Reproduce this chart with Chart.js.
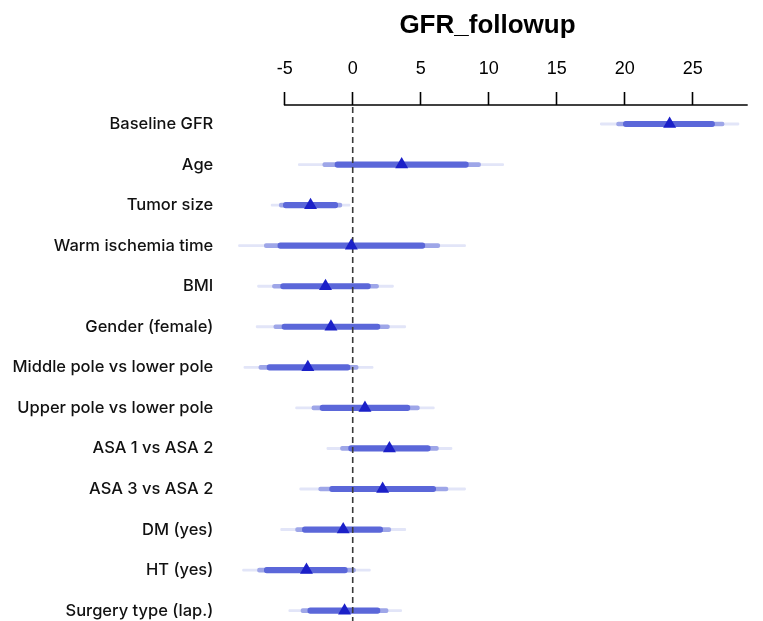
<!DOCTYPE html>
<html>
<head>
<meta charset="utf-8">
<script src="https://cdn.jsdelivr.net/npm/chart.js@4/dist/chart.umd.min.js"></script>
<style>
  html, body { margin: 0; padding: 0; background: #fff; }
  #wrap { width: 763px; height: 621px; }
</style>
</head>
<body>
<div id="wrap"><canvas id="c" width="763" height="621"></canvas></div>
<script>
const categories = ['Baseline GFR', 'Age', 'Tumor size', 'Warm ischemia time', 'BMI', 'Gender (female)',
  'Middle pole vs lower pole', 'Upper pole vs lower pole', 'ASA 1 vs ASA 2', 'ASA 3 vs ASA 2',
  'DM (yes)', 'HT (yes)', 'Surgery type (lap.)'];
const estimates = [23.3, 3.6, -3.1, -0.1, -2.0, -1.6, -3.3, 0.9, 2.7, 2.2, -0.7, -3.4, -0.6];
const outerLow  = [18.2, -4.0, -6.0, -8.4, -7.0, -7.1, -8.0, -4.2, -1.9, -3.9, -5.3, -8.1, -4.7];
const outerHigh = [28.4, 11.1, -0.2, 8.3, 3.0, 3.9, 1.5, 6.0, 7.3, 8.3, 3.9, 1.3, 3.6];
const midLow    = [19.4, -2.2, -5.4, -6.5, -5.9, -5.8, -6.9, -3.0, -0.9, -2.5, -4.2, -7.0, -3.8];
const midHigh   = [27.3, 9.4, -0.8, 6.4, 1.9, 2.7, 0.4, 4.9, 6.3, 7.0, 2.8, 0.2, 2.6];
const innerLow  = [19.9, -1.3, -5.1, -5.5, -5.3, -5.2, -6.3, -2.4, -0.3, -1.7, -3.7, -6.5, -3.3];
const innerHigh = [26.6, 8.5, -1.1, 5.3, 1.3, 2.0, -0.2, 4.2, 5.7, 6.1, 2.2, -0.4, 2.0];
const xTickValues = [-5, 0, 5, 10, 15, 20, 25];
const chartTitle = 'GFR_followup';

const intervalData = (lo, hi) => categories.map((_, i) => ({ x: [lo[i], hi[i]], y: i }));

const refLinePlugin = {
  id: 'refLine',
  afterDatasetDraw(chart, args) {
    if (args.index !== 1) return;
    const ctx = chart.ctx, xs = chart.scales.x;
    const x0 = xs.getPixelForValue(0);
    ctx.save();
    ctx.strokeStyle = '#3a3a3a';
    ctx.lineWidth = 1.6;
    ctx.setLineDash([6, 4]);
    ctx.beginPath();
    ctx.moveTo(x0, chart.chartArea.top + 2);
    ctx.lineTo(x0, chart.height);
    ctx.stroke();
    ctx.restore();
  },
  afterDraw(chart) {
    const ctx = chart.ctx, xs = chart.scales.x;
    const y = chart.chartArea.top;
    ctx.save();
    ctx.strokeStyle = '#000';
    ctx.lineWidth = 1.6;
    ctx.beginPath();
    ctx.moveTo(xs.getPixelForValue(xTickValues[0]) - 0.8, y);
    ctx.lineTo(chart.chartArea.right, y);
    ctx.stroke();
    // title centred over the plotting region
    ctx.fillStyle = '#000';
    ctx.font = 'bold 26px "Liberation Sans", Arial, sans-serif';
    ctx.textAlign = 'center';
    ctx.textBaseline = 'middle';
    ctx.fillText(chartTitle, (chart.chartArea.left + chart.chartArea.right) / 2 - 1.5, 26);
    ctx.restore();
  }
};

new Chart(document.getElementById('c'), {
  type: 'bar',
  data: {
    datasets: [
      {
        type: 'line',
        label: 'estimate',
        data: categories.map((_, i) => ({ x: estimates[i], y: i })),
        showLine: false,
        pointStyle: 'triangle',
        pointRadius: 7.5,
        pointBackgroundColor: '#1b20c8',
        pointBorderColor: '#1b20c8',
        pointBorderWidth: 0,
        order: 0,
        clip: false
      },
      {
        label: 'inner',
        indexAxis: 'y',
        data: intervalData(innerLow, innerHigh),
        backgroundColor: '#5b67d9',
        barThickness: 5.5,
        borderRadius: 10,
        borderSkipped: false,
        grouped: false,
        order: 1,
        clip: false
      },
      {
        label: 'mid',
        indexAxis: 'y',
        data: intervalData(midLow, midHigh),
        backgroundColor: '#9ea6e8',
        barThickness: 4,
        borderRadius: 10,
        borderSkipped: false,
        grouped: false,
        order: 2,
        clip: false
      },
      {
        label: 'outer',
        indexAxis: 'y',
        data: intervalData(outerLow, outerHigh),
        backgroundColor: '#e2e5f8',
        barThickness: 2.2,
        borderRadius: 10,
        borderSkipped: false,
        grouped: false,
        order: 3,
        clip: false
      }
    ]
  },
  options: {
    responsive: false,
    devicePixelRatio: 1,
    animation: false,
    layout: { padding: { left: 0, right: 15.3, top: 46.8, bottom: 0 } },
    plugins: {
      legend: { display: false },
      tooltip: { enabled: false },
      title: { display: false }
    },
    scales: {
      x: {
        type: 'linear',
        position: 'top',
        offset: false,
        min: -9,
        max: 29.04,
        afterBuildTicks(scale) { scale.ticks = xTickValues.map(v => ({ value: v })); },
        afterFit(scale) { scale.height = 58.2; scale.paddingLeft = 0; scale.paddingRight = 0; },
        border: { display: false },
        grid: {
          offset: false,
          drawOnChartArea: false,
          drawTicks: true,
          tickLength: 13,
          tickColor: '#000',
          tickWidth: 1.6
        },
        ticks: {
          color: '#000',
          padding: 12,
          maxRotation: 0,
          autoSkip: false,
          font: { family: '"Liberation Sans", Arial, sans-serif', size: 18 },
          callback: v => String(v)
        }
      },
      y: {
        type: 'linear',
        reverse: true,
        offset: false,
        min: -0.469,
        max: 12.07,
        afterBuildTicks(scale) { scale.ticks = categories.map((_, i) => ({ value: i })); },
        afterFit(scale) { scale.width = 230.3; scale.paddingTop = 0; scale.paddingBottom = 0; },
        border: { display: false },
        grid: { display: false, drawTicks: false, offset: false },
        ticks: {
          color: '#111',
          padding: 17,
          autoSkip: false,
          font: { family: 'Inter, Roboto, sans-serif', size: 16.5, weight: '500' },
          callback: v => categories[v]
        }
      }
    }
  },
  plugins: [refLinePlugin]
});
</script>
</body>
</html>
